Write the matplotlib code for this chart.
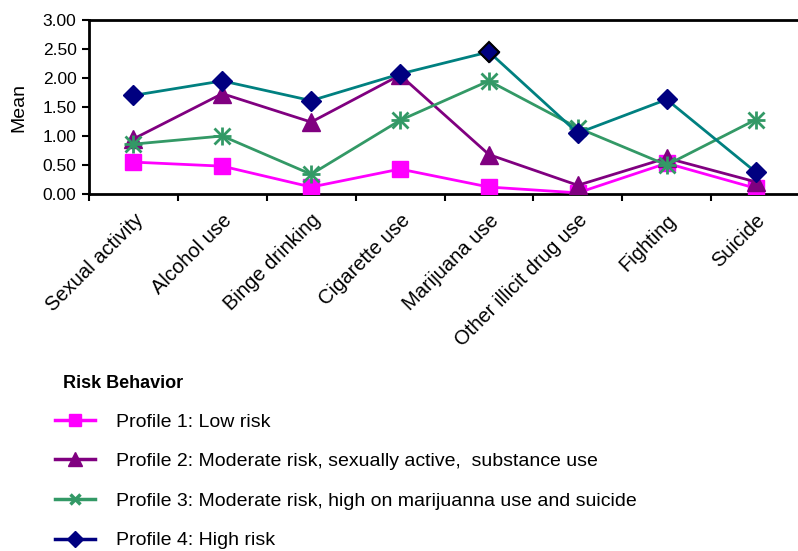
import matplotlib.pyplot as plt
from matplotlib.lines import Line2D

plt.rcParams['font.family'] = ['Liberation Sans', 'DejaVu Sans']

behaviors = ['Sexual activity', 'Alcohol use', 'Binge drinking', 'Cigarette use',
             'Marijuana use', 'Other illicit drug use', 'Fighting', 'Suicide']

profile1 = [0.55, 0.48, 0.12, 0.43, 0.12, 0.02, 0.53, 0.10]
profile2 = [0.95, 1.73, 1.24, 2.05, 0.68, 0.15, 0.62, 0.21]
profile3 = [0.86, 1.00, 0.34, 1.27, 1.95, 1.14, 0.50, 1.28]
profile4 = [1.70, 1.95, 1.61, 2.07, 2.45, 1.05, 1.63, 0.38]

labels = ['Profile 1: Low risk',
          'Profile 2: Moderate risk, sexually active,  substance use',
          'Profile 3: Moderate risk, high on marijuanna use and suicide',
          'Profile 4: High risk']

fig = plt.figure(figsize=(7.98, 5.51), dpi=100)
ax = fig.add_axes([89 / 798, 1 - 194 / 551, (800 - 89) / 798, (194 - 20) / 551])

x = list(range(len(behaviors)))
ax.plot(x, profile1, color='#FF00FF', lw=2, marker='s', ms=11, mfc='#FF00FF', mec='#FF00FF', zorder=3)
ax.plot(x, profile2, color='#800080', lw=2, marker='^', ms=13, mfc='#800080', mec='#800080', zorder=4)
ax.plot(x, profile3, color='#339966', lw=2, marker='x', ms=11, mew=2, mec='#339966', zorder=5)
ax.plot(x, profile3, ls='none', marker='+', ms=13, mew=2, mec='#339966', zorder=5)
ax.plot(x, profile4, color='#008080', lw=2, marker='D', ms=10, mfc='#000080', mec='#000080', zorder=6)
# outlined point for the marijuana peak
ax.plot([4], [profile4[4]], ls='none', marker='D', ms=10, mfc='#000080', mec='black', mew=1.5, zorder=7)

ax.set_xlim(-0.5, len(behaviors) - 0.5)
ax.set_ylim(0, 3)
ax.set_yticks([0, 0.5, 1, 1.5, 2, 2.5, 3])
ax.set_yticklabels([f'{v:.2f}' for v in ax.get_yticks()], fontsize=12.5)
ax.set_xticks([i - 0.5 for i in range(len(behaviors) + 1)], minor=False)
ax.set_xticklabels([])
ax.set_xticks(x, minor=True)
ax.set_xticklabels(behaviors, minor=True, rotation=45, ha='right', va='top',
                   rotation_mode='anchor', fontsize=14.5)
ax.tick_params(axis='x', which='minor', length=0, pad=12)
ax.tick_params(axis='x', which='major', direction='out', length=5, width=1.5)
ax.tick_params(axis='y', direction='out', length=5, width=1.5, pad=4)
ax.set_ylabel('Mean', fontsize=14, labelpad=11)
for side in ['left', 'bottom', 'top']:
    ax.spines[side].set_linewidth(2)
ax.spines['right'].set_visible(False)

# legend title sits a little indented from the handles
fig.text(63 / 798, 1 - 383 / 551, 'Risk Behavior', fontsize=13, fontweight='bold',
         ha='left', va='center')

handles = [
    Line2D([], [], color='#FF00FF', lw=2.5, marker='s', ms=9, mfc='#FF00FF', mec='#FF00FF'),
    Line2D([], [], color='#800080', lw=2.5, marker='^', ms=10, mfc='#800080', mec='#800080'),
    Line2D([], [], color='#339966', lw=2.5, marker='x', ms=7, mew=2.5, mec='#339966'),
    Line2D([], [], color='#000080', lw=2.5, marker='D', ms=8, mfc='#000080', mec='#000080'),
]
leg = fig.legend(handles, labels, loc='upper left', bbox_to_anchor=(55 / 798, 1 - 413 / 551),
                 frameon=False, fontsize=14, borderaxespad=0,
                 handlelength=2.05, labelspacing=1.13, handletextpad=1.1, borderpad=0)

fig.savefig('out.png', dpi=100)
